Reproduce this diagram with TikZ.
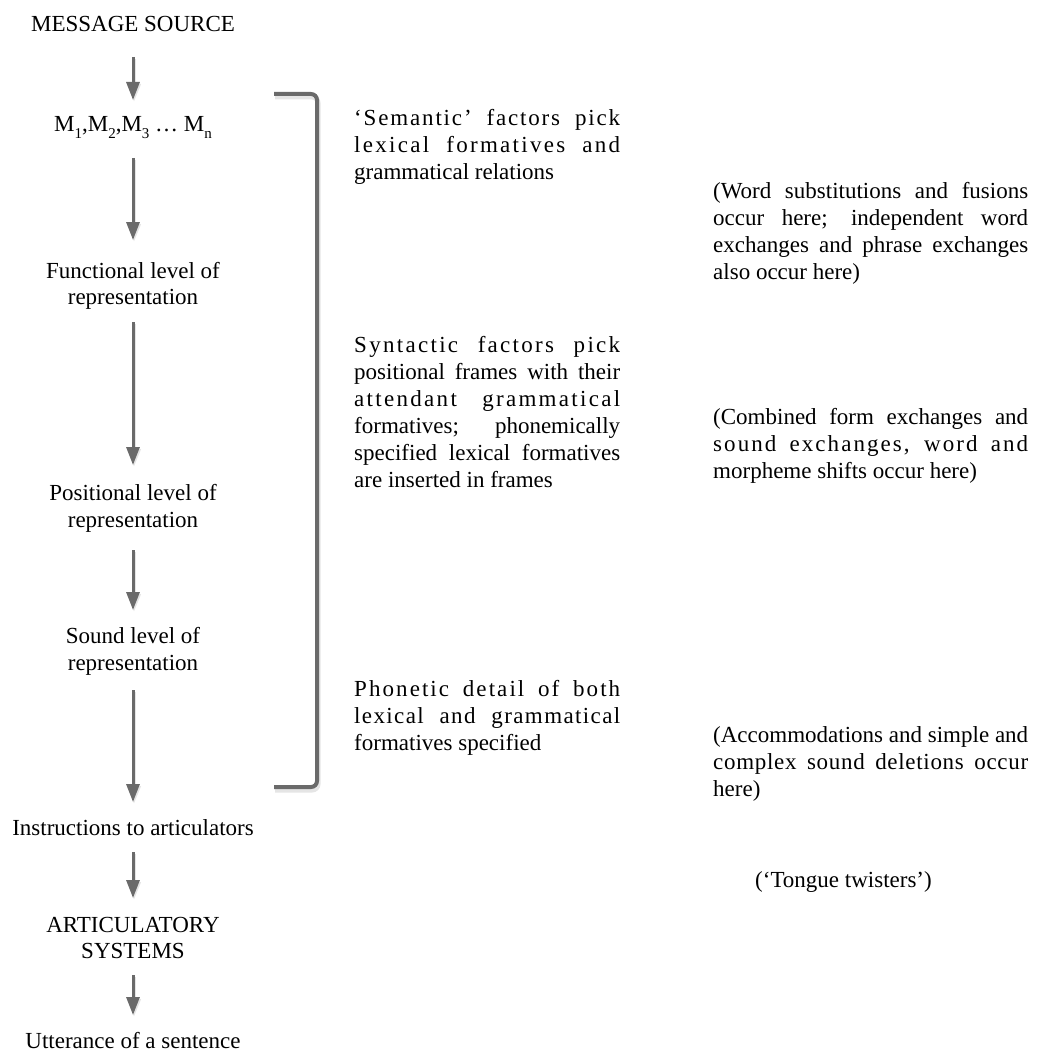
\documentclass[tikz,border=0pt]{standalone}
\usepackage{fontspec}
\setmainfont{Liberation Serif}
\usetikzlibrary{arrows.meta}
\definecolor{flowgray}{RGB}{106,106,106}

% justified text columns
\newlength\colw
\newcommand\jl[2]{\hbox to \colw{\addfontfeature{LetterSpace=#1}#2}}
\newcommand\lastl[1]{\hbox{#1}}
\newcommand\para[2]{\vtop{\colw=#1\relax\baselineskip=27pt\lineskiplimit=-20pt #2}}
\newcommand\msub[1]{\raisebox{-0.28em}{\fontsize{15}{15}\selectfont #1}}

\tikzset{
  lbl/.style={anchor=base, inner sep=0pt},
  txt/.style={anchor=base west, inner sep=0pt},
  flow/.style={draw=flowgray, line width=3pt,
    -{Triangle[width=13pt,length=18pt]},
    preaction={draw=black, opacity=0.10, line width=4pt,
      transform canvas={xshift=1pt,yshift=-2pt}}},
  brace/.style={draw=flowgray, line width=4pt, rounded corners=6pt}
}

\begin{document}
\begin{tikzpicture}[x=1pt, y=-1pt, font=\fontsize{23}{27}\selectfont]
\useasboundingbox (0,0) rectangle (1040,1051);

% main chain
\node[lbl] (ms) at (133,32) {MESSAGE SOURCE};
\node[lbl] (m)  at (133,132) {M\msub{1},M\msub{2},M\msub{3} … M\msub{n}};
\node[lbl] (fa) at (133,278) {Functional level of};
\node[lbl] (fb) at (133,304) {representation};
\node[lbl] (pa) at (133,500) {Positional level of};
\node[lbl] (pb) at (133,527) {representation};
\node[lbl] (sa) at (133,643) {Sound level of};
\node[lbl] (sb) at (133,670) {representation};
\node[lbl] (ia) at (133,835) {Instructions to articulators};
\node[lbl] (aa) at (133,932) {ARTICULATORY};
\node[lbl] (ab) at (133,958) {SYSTEMS};
\node[lbl] (ua) at (133,1048) {Utterance of a sentence};

\draw[flow] ([yshift=-25pt]ms.base) -- ([yshift=32pt]m.base);
\draw[flow] ([yshift=-26pt]m.base)  -- ([yshift=38pt]fa.base);
\draw[flow] ([yshift=-18pt]fb.base) -- ([yshift=35pt]pa.base);
\draw[flow] ([yshift=-23pt]pb.base) -- ([yshift=33pt]sa.base);
\draw[flow] ([yshift=-20pt]sb.base) -- ([yshift=33pt]ia.base);
\draw[flow] ([yshift=-17pt]ia.base) -- ([yshift=34pt]aa.base);
\draw[flow] ([yshift=-17pt]ab.base) -- ([yshift=33pt]ua.base);

% bracket
\draw[brace, draw=black, opacity=0.10, line width=5pt, transform canvas={xshift=1pt,yshift=-3pt}]
  (274,94) -- (317,94) -- (317,787) -- (274,787);
\draw[brace] (274,94) -- (317,94) -- (317,787) -- (274,787);

% level descriptions
\node[txt] (sem) at (354,126) {\para{266pt}{%
  \jl{8}{‘Semantic’ factors pick}
  \jl{10}{lexical formatives and}
  \lastl{grammatical relations}}};
\node[txt] (syn) at (354,352) {\para{266pt}{%
  \jl{10}{Syntactic factors pick}
  \jl{0}{positional frames with their}
  \jl{10}{attendant grammatical}
  \jl{0}{formatives; phonemically}
  \jl{0}{specified lexical formatives}
  \lastl{are inserted in frames}}};
\node[txt] (pho) at (354,696) {\para{266pt}{%
  \jl{9}{Phonetic detail of both}
  \jl{6}{lexical and grammatical}
  \lastl{formatives specified}}};

% error types
\node[txt] (err1) at (713,198) {\para{315pt}{%
  \jl{0}{(Word substitutions and fusions}
  \jl{0}{occur here; independent word}
  \jl{0}{exchanges and phrase exchanges}
  \lastl{also occur here)}}};
\node[txt] (err2) at (713,424) {\para{315pt}{%
  \jl{0}{(Combined form exchanges and}
  \jl{9}{sound exchanges, word and}
  \lastl{morpheme shifts occur here)}}};
\node[txt] (err3) at (713,742) {\para{315pt}{%
  \jl{0}{(Accommodations and simple and}
  \jl{3}{complex sound deletions occur}
  \lastl{here)}}};
\node[txt] (err4) at (755,887) {(‘Tongue twisters’)};
\end{tikzpicture}
\end{document}
